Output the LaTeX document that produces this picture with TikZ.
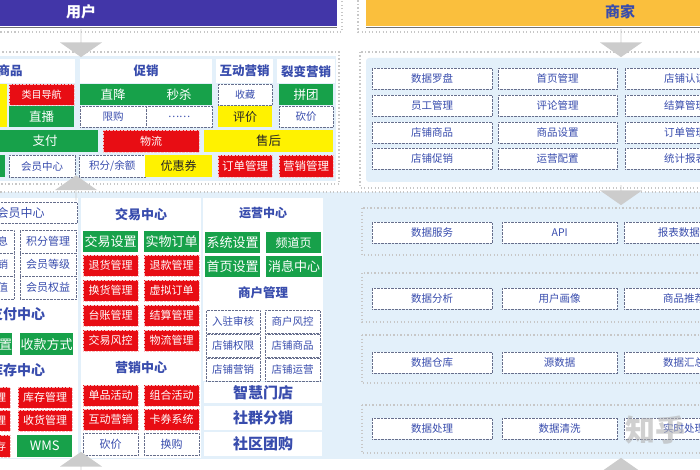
\documentclass[tikz,border=0pt]{standalone}
\usepackage{fontspec}
\setmainfont{Noto Sans CJK SC}
\usetikzlibrary{shapes.arrows}
\definecolor{mblue}{rgb}{0.22, 0.3, 0.68}
\definecolor{mred}{rgb}{0.91, 0.05, 0.08}
\definecolor{mgreen}{rgb}{0.09, 0.63, 0.29}
\definecolor{myellow}{rgb}{1, 0.95, 0}
\definecolor{mpurple}{rgb}{0.26, 0.21, 0.66}
\definecolor{morange}{rgb}{0.98, 0.75, 0.24}
\definecolor{mpale}{rgb}{0.89, 0.94, 0.98}
\definecolor{mgrey}{rgb}{0.4, 0.43, 0.55}
\tikzset{cell/.style = {rectangle, anchor=north west, inner sep=0, minimum height=21,
                        font=\fontsize{10.5}{12}\selectfont}}
\tikzset{gcell/.style = {cell, fill=mgreen, text=white}}
\tikzset{rcell/.style = {cell, fill=mred, text=white, draw=white!75!mred, densely dotted}}
\tikzset{ycell/.style = {cell, fill=myellow, text=black!85}}
\tikzset{wcell/.style = {cell, fill=white, text=mblue, draw=mgrey, densely dotted}}
\tikzset{head/.style = {cell, fill=white, text=mblue, minimum height=24,
                        font=\bfseries\fontsize{12.5}{14}\selectfont}}
\tikzset{lg/.style = {font=\fontsize{12.5}{14}\selectfont}}
\tikzset{xl/.style = {font=\bfseries\fontsize{15}{17}\selectfont}}
\tikzset{banner/.style = {cell, minimum height=28, font=\bfseries\fontsize{15}{17}\selectfont}}
\tikzset{frame/.style = {draw=black!22, line width=1.3pt, dash pattern=on 1.3pt off 2.2pt}}
\tikzset{blk/.style = {single arrow, fill=black!20, inner sep=0, minimum width=42,
                       single arrow head extend=10, single arrow tip angle=110,
                       minimum height=#1}}

\begin{document}
\begin{tikzpicture}[x=1pt, y=-1pt]
    \useasboundingbox (0,0) rectangle (700,470);
    \clip (0,0) rectangle (700,470);

    % banners
    \node [banner, fill=mpurple, text=white, minimum width=512] (user) at (-175,-2) {用户};
    \node [banner, fill=morange, text=mblue, minimum width=508] (shop) at (366,-2) {商家};
    \draw [black!55, line width=0.8pt] ([yshift=-1.5]user.south west) -- ([yshift=-1.5]user.south east);
    \draw [black!55, line width=0.8pt] ([yshift=-1.5]shop.south west) -- ([yshift=-1.5]shop.south east);
    \draw [frame] (-10,-10) rectangle (342,32);
    \draw [frame] (358,-10) rectangle (710,32);

    % panels
    \draw [frame] (-10,52) rectangle (339,184);
    \fill [mpale] (-10,56) rectangle (336,181);
    \draw [frame] (360,52) rectangle (710,188);
    \fill [mpale, rounded corners=3] (366,58) rectangle (710,182);
    \fill [mpale] (-10,192) rectangle (710,459);
    \draw [frame] (-10,192) -- (710,192);
    \fill [white] (-10,198) rectangle (78,458);
    \fill [white] (81,198) rectangle (201,458);
    \fill [white] (203,198) rectangle (323,381);

    % user front
    \node [head, minimum width=130] (spH) at (-55,59) {商品};
    \node [head, minimum width=132] (cxH) at (80,59) {促销};
    \node [head, minimum width=57] (hdH) at (216,59) {互动营销};
    \node [head, minimum width=58] (lbH) at (277,59) {裂变营销};

    \node [ycell, minimum width=27, minimum height=43] (yl) at (-20,84) {};
    \node [rcell, minimum width=65, font=\fontsize{10}{12}\selectfont] (lmdh) at (9,84) {类目导航};
    \node [gcell, lg, minimum width=65] (zb) at (9,106) {直播};
    \node [gcell, lg, minimum width=66] (zj) at (80,84) {直降};
    \node [gcell, lg, minimum width=66] (ms) at (146,84) {秒杀};
    \node [wcell, minimum width=66] (xg) at (80,106) {限购};
    \node [wcell, minimum width=66] (etc) at (146,106) {……};
    \node [wcell, minimum width=54, font=\fontsize{10}{12}\selectfont] (sc) at (218,84) {收藏};
    \node [ycell, minimum width=54, font=\fontsize{12}{14}\selectfont] (pj) at (218,106) {评价};
    \node [gcell, lg, minimum width=54] (pt) at (279,84) {拼团};
    \node [wcell, minimum width=54] (kj) at (279,106) {砍价};

    \node [gcell, lg, minimum width=106, minimum height=22] (zf) at (-8,130) {支付};
    \node [rcell, minimum width=96, minimum height=22, font=\fontsize{11}{12}\selectfont] (wl) at (103,130) {物流};
    \node [ycell, lg, minimum width=129, minimum height=22] (sh) at (204,130) {售后};

    \node [gcell, minimum width=25, minimum height=22] (gl) at (-20,155) {};
    \node [wcell, minimum width=66, minimum height=22] (hyzx) at (9,155) {会员中心};
    \node [wcell, minimum width=66, minimum height=22] (jfye) at (79,155) {积分/余额};
    \node [ycell, minimum width=67, minimum height=22, font=\fontsize{12}{14}\selectfont] (yhq) at (145,155) {优惠券};
    \node [rcell, minimum width=54, minimum height=22, font=\fontsize{11.5}{13}\selectfont] (ddgl) at (218,155) {订单管理};
    \node [rcell, minimum width=54, minimum height=22, font=\fontsize{11.5}{13}\selectfont] (yxgl) at (279,155) {营销管理};

    % member / pay / stock
    \node [wcell, minimum width=113, font=\fontsize{12}{14}\selectfont] (hyH) at (-36,202) {会员中心};
    \node [wcell, minimum width=54, minimum height=23] (hyxx) at (-40,230) {会员信息};
    \node [wcell, minimum width=54, minimum height=23] (hyyx) at (-40,253) {会员营销};
    \node [wcell, minimum width=54, minimum height=23] (hycz) at (-40,276) {会员储值};
    \node [wcell, minimum width=56, minimum height=23, font=\fontsize{11}{12}\selectfont] (jfgl) at (20,230) {积分管理};
    \node [wcell, minimum width=56, minimum height=23, font=\fontsize{11}{12}\selectfont] (hydj) at (20,253) {会员等级};
    \node [wcell, minimum width=56, minimum height=23, font=\fontsize{11}{12}\selectfont] (hyqy) at (20,276) {会员权益};
    \node [head, minimum width=120, font=\bfseries\fontsize{14}{16}\selectfont] (zfH) at (-43,302) {支付中心};
    \node [gcell, minimum width=52, minimum height=22, font=\fontsize{13}{15}\selectfont] (zfsz) at (-40,333) {支付设置};
    \node [gcell, minimum width=53, minimum height=22, font=\fontsize{13}{15}\selectfont] (skfs) at (20,333) {收款方式};
    \node [head, minimum width=120, font=\bfseries\fontsize{14}{16}\selectfont] (kcH) at (-43,358) {库存中心};
    \node [rcell, minimum width=50] (rkgl) at (-40,387) {入库管理};
    \node [rcell, minimum width=50] (ckgl) at (-40,410) {出库管理};
    \node [rcell, minimum width=50, minimum height=22] (sskc) at (-40,435) {实时库存};
    \node [rcell, minimum width=54, font=\fontsize{11}{12}\selectfont] (kcgl) at (18,387) {库存管理};
    \node [rcell, minimum width=54, font=\fontsize{11}{12}\selectfont] (shgl) at (18,410) {收货管理};
    \node [gcell, minimum width=55, minimum height=22, font=\fontsize{13}{15}\selectfont] (wms) at (17,435) {WMS};

    % trade / marketing
    \node [head, minimum width=118, minimum height=22, font=\bfseries\fontsize{13}{15}\selectfont] (jyH) at (82,203) {交易中心};
    \node [gcell, minimum width=55, font=\fontsize{13}{15}\selectfont] (jysz) at (83,231) {交易设置};
    \node [gcell, minimum width=55, font=\fontsize{13}{15}\selectfont] (swdd) at (144,231) {实物订单};
    \node [rcell, minimum width=55, font=\fontsize{11}{12}\selectfont] (thgl) at (83,255) {退货管理};
    \node [rcell, minimum width=55, font=\fontsize{11}{12}\selectfont] (tkgl) at (144,255) {退款管理};
    \node [rcell, minimum width=55, font=\fontsize{11}{12}\selectfont] (hhgl) at (83,280) {换货管理};
    \node [rcell, minimum width=55, font=\fontsize{11}{12}\selectfont] (xndd) at (144,280) {虚拟订单};
    \node [rcell, minimum width=55, font=\fontsize{11}{12}\selectfont] (tzgl) at (83,305) {台账管理};
    \node [rcell, minimum width=55, font=\fontsize{11}{12}\selectfont] (jsgl) at (144,305) {结算管理};
    \node [rcell, minimum width=55, font=\fontsize{11}{12}\selectfont] (jyfk) at (83,330) {交易风控};
    \node [rcell, minimum width=55, font=\fontsize{11}{12}\selectfont] (wlgl) at (144,330) {物流管理};
    \node [head, minimum width=118, font=\bfseries\fontsize{13}{15}\selectfont] (yxH) at (82,355) {营销中心};
    \node [rcell, minimum width=55, font=\fontsize{11}{12}\selectfont] (dphd) at (83,385) {单品活动};
    \node [rcell, minimum width=55, font=\fontsize{11}{12}\selectfont] (zhhd) at (144,385) {组合活动};
    \node [rcell, minimum width=55, font=\fontsize{11}{12}\selectfont] (hdyx) at (83,409) {互动营销};
    \node [rcell, minimum width=55, font=\fontsize{11}{12}\selectfont] (kqxt) at (144,409) {卡券系统};
    \node [wcell, minimum width=55, minimum height=22, font=\fontsize{11}{12}\selectfont] (kj2) at (83,433) {砍价};
    \node [wcell, minimum width=55, minimum height=22, font=\fontsize{11}{12}\selectfont] (hg) at (144,433) {换购};

    % operation / merchant
    \node [head, minimum width=118, minimum height=22, font=\bfseries\fontsize{12}{14}\selectfont] (yyH) at (204,202) {运营中心};
    \node [gcell, minimum width=55, font=\fontsize{13}{15}\selectfont] (xtsz) at (205,232) {系统设置};
    \node [gcell, minimum width=55, font=\fontsize{12}{14}\selectfont] (pdy) at (266,232) {频道页};
    \node [gcell, minimum width=55, font=\fontsize{13}{15}\selectfont] (sysz) at (205,256) {首页设置};
    \node [gcell, minimum width=56, font=\fontsize{13}{15}\selectfont] (xxzx) at (266,256) {消息中心};
    \node [head, minimum width=118, minimum height=26] (shH) at (204,280) {商户管理};
    \node [wcell, minimum width=54, minimum height=23] (rzsh) at (206,310) {入驻审核};
    \node [wcell, minimum width=55, minimum height=23] (shfk) at (265,310) {商户风控};
    \node [wcell, minimum width=54, minimum height=23] (dpqx) at (206,334) {店铺权限};
    \node [wcell, minimum width=55, minimum height=23] (dpsp) at (265,334) {店铺商品};
    \node [wcell, minimum width=54, minimum height=23] (dpyx) at (206,358) {店铺营销};
    \node [wcell, minimum width=55, minimum height=23] (dpyy) at (265,358) {店铺运营};
    \node [head, xl, minimum width=118, minimum height=21] (zhmd) at (204,382) {智慧门店};
    \node [head, xl, minimum width=118, minimum height=24] (sqfx) at (204,406) {社群分销};
    \node [head, xl, minimum width=118, minimum height=24] (sqtg) at (204,432) {社区团购};

    % merchant back end
    \node [wcell, minimum width=120] (sjlp) at (372,68) {数据罗盘};
    \node [wcell, minimum width=119] (sygl) at (498,68) {首页管理};
    \node [wcell, minimum width=120] (dprz) at (625,68) {店铺认证};
    \node [wcell, minimum width=120] (yggl) at (372,95) {员工管理};
    \node [wcell, minimum width=119] (plgl) at (498,95) {评论管理};
    \node [wcell, minimum width=120] (jsgl2) at (625,95) {结算管理};
    \node [wcell, minimum width=120] (dpsp2) at (372,122) {店铺商品};
    \node [wcell, minimum width=119] (spsz) at (498,122) {商品设置};
    \node [wcell, minimum width=120] (ddgl2) at (625,122) {订单管理};
    \node [wcell, minimum width=120] (dpcx) at (372,148) {店铺促销};
    \node [wcell, minimum width=119] (yypz) at (498,148) {运营配置};
    \node [wcell, minimum width=120] (tjbb) at (625,148) {统计报表};

    % data layers
    \draw [frame] (362,208) rectangle (710,255);
    \draw [frame] (362,273) rectangle (710,322);
    \draw [frame] (362,335) rectangle (710,383);
    \draw [frame] (362,405) rectangle (710,453);
    \node [wcell, minimum width=120] (sjfw) at (372,222) {数据服务};
    \node [wcell, minimum width=115] (api) at (502,222) {API};
    \node [wcell, minimum width=120] (bbsj) at (624,222) {报表数据库};
    \node [wcell, minimum width=120] (sjfx) at (372,288) {数据分析};
    \node [wcell, minimum width=115] (yhhx) at (502,288) {用户画像};
    \node [wcell, minimum width=120] (sptj) at (624,288) {商品推荐};
    \node [wcell, minimum width=120] (sjck) at (372,352) {数据仓库};
    \node [wcell, minimum width=115] (ysj) at (502,352) {源数据};
    \node [wcell, minimum width=120] (sjhz) at (624,352) {数据汇总};
    \node [wcell, minimum width=120] (sjcl) at (372,418) {数据处理};
    \node [wcell, minimum width=115] (sjqx) at (502,418) {数据清洗};
    \node [wcell, minimum width=120] (sscl) at (624,418) {实时处理};
    \node [text=black!30, opacity=0.6, font=\bfseries\fontsize{30}{30}\selectfont] (zh) at (655,430) {知乎};

    % block arrows
    \node [blk=28, rotate=-90] (aUser) at (81,43) {};
    \node [blk=25, rotate=90] (aMid) at (76,188) {};
    \node [blk=24, rotate=90] (aLow) at (81,464) {};
    \node [blk=28, rotate=-90] (aShop) at (621,43) {};
    \node [blk=20, rotate=-90] (aData) at (621,195) {};
    \node [blk=24, rotate=90] (aBot) at (621,470) {};
  \end{tikzpicture}
\end{document}
